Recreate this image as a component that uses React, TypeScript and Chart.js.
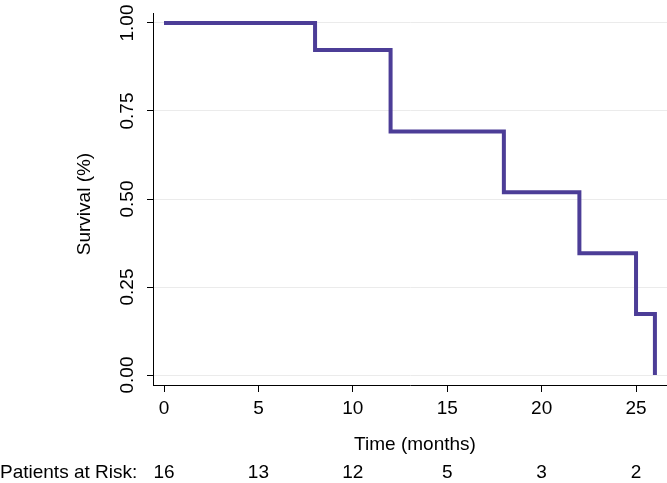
import React, { useEffect, useRef } from "react";
import { Chart, registerables } from "chart.js";

Chart.register(...registerables);

// Kaplan-Meier step data (time in months, survival proportion)
const times = [0, 8, 12, 18, 22, 25, 26];
const survival = [1, 0.923, 0.692, 0.519, 0.346, 0.173, 0];

// Axis ticks
const xTicks = [0, 5, 10, 15, 20, 25];
const yTicks = [0, 0.25, 0.5, 0.75, 1];

// Patients at risk table
const riskTimes = [0, 5, 10, 15, 20, 25];
const riskCounts = [16, 13, 12, 5, 3, 2];

const FONT = "'Liberation Sans', Arial, Helvetica, sans-serif";
const FS = 19;
const LINE_COLOR = "#4c3d97";

const overlay = {
  id: "overlay",
  afterDraw(chart: any) {
    const ctx = chart.ctx as CanvasRenderingContext2D;
    const xs = chart.scales.x;
    const ys = chart.scales.y;
    ctx.save();
    ctx.fillStyle = "#000";
    ctx.font = `${FS}px ${FONT}`;
    // rotated y tick labels
    ctx.textAlign = "center";
    ctx.textBaseline = "middle";
    yTicks.forEach((v) => {
      const py = ys.getPixelForValue(v);
      ctx.save();
      ctx.translate(128, py);
      ctx.rotate(-Math.PI / 2);
      ctx.fillText(v.toFixed(2), 0, 0);
      ctx.restore();
    });
    // y title
    ctx.save();
    ctx.translate(85, 204);
    ctx.rotate(-Math.PI / 2);
    ctx.fillText("Survival (%)", 0, 0);
    ctx.restore();
    // x title
    ctx.fillText("Time (months)", 415, 445);
    // risk table
    ctx.textBaseline = "alphabetic";
    ctx.textAlign = "left";
    ctx.fillText("Patients at Risk:", 0, 478);
    ctx.textAlign = "center";
    riskTimes.forEach((t, i) => {
      ctx.fillText(String(riskCounts[i]), xs.getPixelForValue(t), 478);
    });
    ctx.restore();
  },
};

export default function App() {
  const ref = useRef<HTMLCanvasElement | null>(null);
  useEffect(() => {
    document.body.style.margin = "0";
    const canvas = ref.current;
    if (!canvas) return;
    const chart = new Chart(canvas, {
      type: "line",
      data: {
        datasets: [
          {
            data: times.map((t, i) => ({ x: t, y: survival[i] })),
            borderColor: LINE_COLOR,
            backgroundColor: LINE_COLOR,
            borderWidth: 4,
            pointRadius: 0,
            stepped: "before",
            fill: false,
          },
        ],
      },
      options: {
        responsive: false,
        animation: false,
        devicePixelRatio: 1,
        layout: { padding: { top: 13, left: 0, right: 0, bottom: 0 } },
        plugins: { legend: { display: false }, tooltip: { enabled: false } },
        scales: {
          x: {
            type: "linear",
            min: -0.583,
            max: 26.64,
            afterBuildTicks: (s: any) => {
              s.ticks = xTicks.map((v) => ({ value: v }));
            },
            afterFit: (s: any) => {
              s.height = 98;
              s.paddingLeft = 0;
              s.paddingRight = 0;
            },
            grid: { drawOnChartArea: false, drawTicks: true, tickLength: 7, tickColor: "#000" },
            border: { display: true, color: "#000", width: 1 },
            ticks: {
              color: "#000",
              font: { family: FONT, size: FS },
              padding: 5,
              maxRotation: 0,
              minRotation: 0,
              autoSkip: false,
              callback: (v: any) => String(v),
            },
          },
          y: {
            type: "linear",
            min: -0.0284,
            max: 1.0284,
            afterBuildTicks: (s: any) => {
              s.ticks = yTicks.map((v) => ({ value: v }));
            },
            afterFit: (s: any) => {
              s.width = 153;
              s.paddingTop = 0;
              s.paddingBottom = 0;
            },
            grid: { color: "#ebebeb", tickColor: "#000", tickLength: 6, drawTicks: true, lineWidth: 1 },
            border: { display: true, color: "#000", width: 1 },
            ticks: { display: false },
          },
        },
      },
      plugins: [overlay],
    } as any);
    return () => chart.destroy();
  }, []);
  return (
    <div style={{ position: "fixed", left: 0, top: 0, width: 667, height: 483, background: "#fff" }}>
      <canvas ref={ref} width={667} height={483} />
    </div>
  );
}
